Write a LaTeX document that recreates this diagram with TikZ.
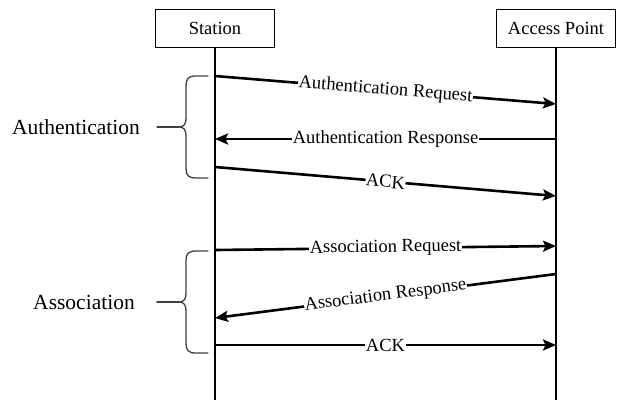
\documentclass[tikz,border=0pt]{standalone}
\usepackage{fontspec}
\setmainfont{Liberation Serif}
\usetikzlibrary{arrows.meta}
\tikzset{entity/.style={draw,line width=1pt,minimum width=119pt,minimum
height=38pt,inner sep=0pt,font=\fontsize{18.5}{22}\selectfont},
lifeline/.style={line width=1.8pt},
msg/.style={line width=2.6pt,-{Stealth[length=13pt,width=11pt,inset=2.5pt]}},
msglabel/.style={fill=white,inner sep=0.5pt,sloped,midway,font=\fontsize{18.5}{22}\selectfont},
bracket/.style={line width=1.3pt,black!75,line cap=round},
phase/.style={font=\fontsize{21.5}{26}\selectfont}}
\begin{document}
\begin{tikzpicture}[x=1pt,y=-1pt]
		\useasboundingbox (0,0) rectangle (623,400);
		\node[entity] (st) at (215,28.5) {Station};
		\node[entity] (ap) at (556,28.5) {Access Point};
		\coordinate (stend) at (st |- 0,400);
		\coordinate (apend) at (ap |- 0,400);
		\draw[lifeline] (st.south) -- (stend);
		\draw[lifeline] (ap.south) -- (apend);
		% messages
		\foreach \a/\ya/\b/\yb/\t in {
				st/76/ap/104/Authentication Request,
				ap/139/st/139/Authentication Response,
				st/167/ap/196/ACK,
				st/250/ap/246/Association Request,
				ap/274/st/318/Association Response,
				st/345/ap/345/ACK
			}
		\draw[msg] (\a |- 0,\ya) -- (\b |- 0,\yb) node[msglabel]{\t};
		% phases
		\foreach \top/\bot/\lx/\t in {76/178/76/Authentication,251/353/84/Association}{
			\pgfmathsetmacro\mid{(\top+\bot)/2}
			\node[phase] (\t) at (\lx,\mid) {\t};
			\draw[bracket] (208,\top) -- (196,\top)
			.. controls (188,\top) and (186,\top+3) .. (186,\top+10)
			-- (186,\mid-9) .. controls (186,\mid-3) and (184,\mid) .. (179,\mid)
			.. controls (184,\mid) and (186,\mid+3) .. (186,\mid+9)
			-- (186,\bot-10) .. controls (186,\bot-3) and (188,\bot) .. (196,\bot)
			-- (208,\bot);
			\draw[bracket] (157,\mid) -- (179,\mid);
		}
	\end{tikzpicture}
\end{document}
